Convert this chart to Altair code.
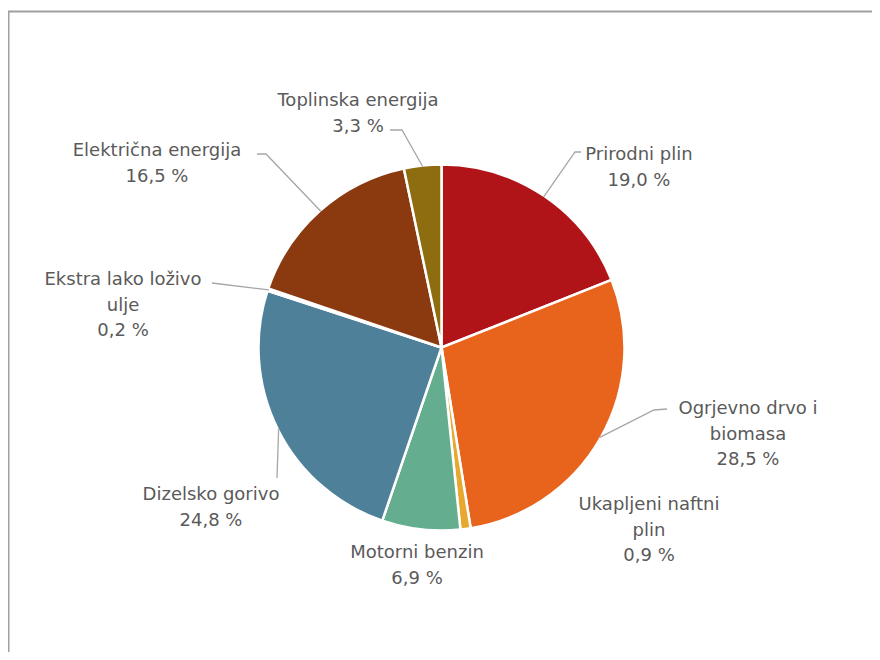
import altair as alt
import pandas as pd
import numpy as np

# ---------------- data ----------------
categories = [
    "Prirodni plin",
    "Ogrjevno drvo i biomasa",
    "Ukapljeni naftni plin",
    "Motorni benzin",
    "Dizelsko gorivo",
    "Ekstra lako loživo ulje",
    "Električna energija",
    "Toplinska energija",
]
shares = [19.0, 28.5, 0.9, 6.9, 24.8, 0.2, 16.5, 3.3]
share_text = ["19,0 %", "28,5 %", "0,9 %", "6,9 %", "24,8 %", "0,2 %", "16,5 %", "3,3 %"]
label_lines = [
    ["Prirodni plin"],
    ["Ogrjevno drvo i", "biomasa"],
    ["Ukapljeni naftni", "plin"],
    ["Motorni benzin"],
    ["Dizelsko gorivo"],
    ["Ekstra lako loživo", "ulje"],
    ["Električna energija"],
    ["Toplinska energija"],
]
colors = ["#B01318", "#E8641C", "#E8A830", "#65AD8F", "#4E8099",
          "#3E6F86", "#8A3A0E", "#8E6C10"]

# ---------------- layout (pixels, chart coordinates) ----------------
W, H = 864, 644
CX, CY, R = 433.5, 339.5, 183
LINE_H = 25.5
# first-line centre of each label block
label_anchor = [(631, 147), (740, 401), (641, 497), (409, 545),
                (203, 487), (115, 272), (149, 143), (350, 93)]
# leader line: list of (x, y) after the slice-edge point; empty = no leader
leader_pts = [
    [(567, 144), (573, 144)],
    [(646, 402), (659, 401)],
    [],
    [],
    [(269, 470)],
    [(204, 275)],
    [(258, 146), (249, 146)],
    [(394, 122), (382, 122)],
]

# ---------------- tables ----------------
df = pd.DataFrame({"category": categories, "share": shares, "idx": range(len(categories))})

total = float(np.sum(shares))
cum = np.cumsum(shares)
mid = (cum - np.array(shares) / 2.0) / total * 2 * np.pi

text_rows = []
for i, cat in enumerate(categories):
    lines = label_lines[i] + [share_text[i]]
    ax, ay = label_anchor[i]
    for j, ln in enumerate(lines):
        text_rows.append({"category": cat, "line": ln, "x": ax, "y": ay + j * LINE_H})
text_df = pd.DataFrame(text_rows)

lead_rows = []
for i, cat in enumerate(categories):
    if not leader_pts[i]:
        continue
    ex = CX + (R - 1) * np.sin(mid[i])
    ey = CY - (R - 1) * np.cos(mid[i])
    lead_rows.append({"category": cat, "pt": 0, "x": ex, "y": ey})
    for k, (px, py) in enumerate(leader_pts[i]):
        lead_rows.append({"category": cat, "pt": k + 1, "x": px, "y": py})
lead_df = pd.DataFrame(lead_rows)

xs = alt.Scale(domain=[0, W], nice=False, zero=False)
ys = alt.Scale(domain=[0, H], nice=False, zero=False, reverse=True)

pie = alt.Chart(df).mark_arc(outerRadius=R, stroke="white", strokeWidth=2.5).encode(
    theta=alt.Theta("share:Q", stack=True),
    color=alt.Color("category:N", scale=alt.Scale(domain=categories, range=colors), legend=None),
    order=alt.Order("idx:Q"),
    x=alt.value(CX),
    y=alt.value(CY),
)

leaders = alt.Chart(lead_df).mark_line(color="#A6A6A6", strokeWidth=1.3).encode(
    x=alt.X("x:Q", scale=xs, axis=None),
    y=alt.Y("y:Q", scale=ys, axis=None),
    detail="category:N",
    order="pt:Q",
)

labels = alt.Chart(text_df).mark_text(
    font="DejaVu Sans", fontSize=18, color="#5A5A5A", align="center", baseline="middle"
).encode(
    x=alt.X("x:Q", scale=xs, axis=None),
    y=alt.Y("y:Q", scale=ys, axis=None),
    text="line:N",
)

frame_df = pd.DataFrame({"a": [0]})
frame_left = alt.Chart(frame_df).mark_rule(color="#A0A0A0", strokeWidth=2).encode(
    x=alt.value(0.5), y=alt.value(3), y2=alt.value(H)
)
frame_top = alt.Chart(frame_df).mark_rule(color="#A0A0A0", strokeWidth=2).encode(
    x=alt.value(0), x2=alt.value(W), y=alt.value(3.5)
)

chart = alt.layer(frame_left, frame_top, pie, leaders, labels).resolve_scale(
    color="independent"
).properties(
    width=W, height=H, padding=0, autosize=alt.AutoSizeParams(type="none"), background="white"
).configure_view(stroke=None)

chart.save("out.html", embed_options={"renderer": "svg", "actions": False})
